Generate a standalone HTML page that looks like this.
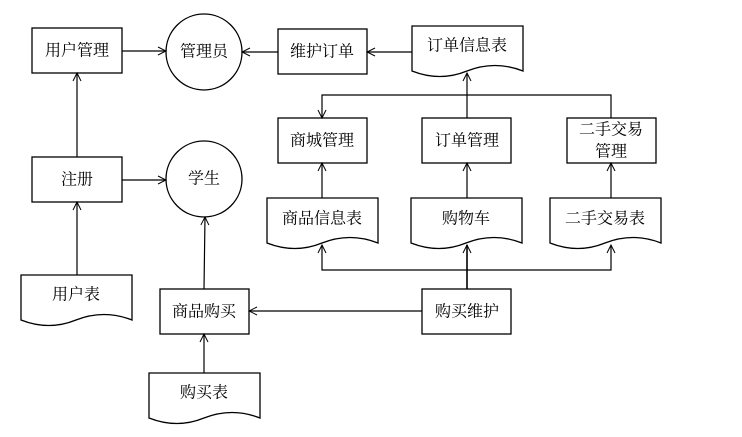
<!DOCTYPE html>
<html><head><meta charset="utf-8"><style>
html,body{margin:0;padding:0;background:#fff;}
text{font-family:"Liberation Serif","Noto Serif CJK SC","Noto Sans CJK SC",serif;font-size:16px;fill:#000;text-anchor:middle;dominant-baseline:central;}
</style></head><body>
<svg width="742" height="432" viewBox="0 0 742 432" xmlns="http://www.w3.org/2000/svg">
<defs>
<marker id="a" markerWidth="10" markerHeight="10" refX="9" refY="5" orient="auto" markerUnits="userSpaceOnUse">
<path d="M1,1 L9,5 L1,9" fill="none" stroke="#000" stroke-width="1"/>
</marker>
</defs>
<g fill="#fff" stroke="#000" stroke-width="1.3">
<rect x="32" y="28" width="90" height="45"/>
<circle cx="204" cy="52" r="38"/>
<rect x="278" y="29" width="89" height="45"/>
<rect x="32" y="157" width="90" height="45"/>
<circle cx="204" cy="179" r="38"/>
<rect x="278" y="118" width="89" height="45"/>
<rect x="422" y="118" width="89" height="45"/>
<rect x="567" y="118" width="89" height="45"/>
<rect x="160" y="289" width="89" height="45"/>
<rect x="422" y="289" width="89" height="45"/>
<path d="M412,26 H523 V71 Q495,60 467,71 Q440,82 412,71 Z"/>
<path d="M267,198 H378 V243 Q350,232 322,243 Q295,254 267,243 Z"/>
<path d="M411,198 H522 V243 Q494,232 466,243 Q439,254 411,243 Z"/>
<path d="M550,198 H661 V243 Q633,232 605,243 Q578,254 550,243 Z"/>
<path d="M21,275 H132 V320 Q104,309 76,320 Q49,331 21,320 Z"/>
<path d="M149,373 H260 V418 Q232,407 204,418 Q177,429 149,418 Z"/>
</g>
<g fill="none" stroke="#000" stroke-width="1.2">
<line x1="122" y1="51" x2="166" y2="51" marker-end="url(#a)"/>
<line x1="278" y1="52" x2="242" y2="52" marker-end="url(#a)"/>
<line x1="412" y1="52" x2="367" y2="52" marker-end="url(#a)"/>
<line x1="77" y1="157" x2="77" y2="73" marker-end="url(#a)"/>
<line x1="122" y1="180" x2="166" y2="180" marker-end="url(#a)"/>
<line x1="77" y1="275" x2="77" y2="202" marker-end="url(#a)"/>
<path d="M611,118 V95 H322 V118" marker-end="url(#a)"/>
<line x1="467" y1="118" x2="467" y2="73" marker-end="url(#a)"/>
<line x1="322" y1="198" x2="322" y2="163" marker-end="url(#a)"/>
<line x1="467" y1="198" x2="467" y2="163" marker-end="url(#a)"/>
<line x1="611" y1="198" x2="611" y2="163" marker-end="url(#a)"/>
<path d="M467,270 H322 V245" marker-end="url(#a)"/>
<path d="M467,270 H611 V245" marker-end="url(#a)"/>
<line x1="467" y1="289" x2="467" y2="245" marker-end="url(#a)" stroke-width="1.6"/>
<line x1="422" y1="311" x2="249" y2="311" marker-end="url(#a)"/>
<line x1="204" y1="289" x2="205" y2="217" marker-end="url(#a)"/>
<line x1="204" y1="373" x2="204" y2="334" marker-end="url(#a)"/>
</g>
<text x="77" y="51">用户管理</text>
<text x="204" y="52">管理员</text>
<text x="322" y="52">维护订单</text>
<text x="467" y="46">订单信息表</text>
<text x="77" y="180">注册</text>
<text x="204" y="179">学生</text>
<text x="322" y="141">商城管理</text>
<text x="467" y="141">订单管理</text>
<text x="611" y="130">二手交易</text>
<text x="611" y="152">管理</text>
<text x="322" y="219">商品信息表</text>
<text x="466" y="219">购物车</text>
<text x="605" y="219">二手交易表</text>
<text x="76" y="295">用户表</text>
<text x="204" y="312">商品购买</text>
<text x="467" y="312">购买维护</text>
<text x="204" y="393">购买表</text>
</svg>
</body></html>
